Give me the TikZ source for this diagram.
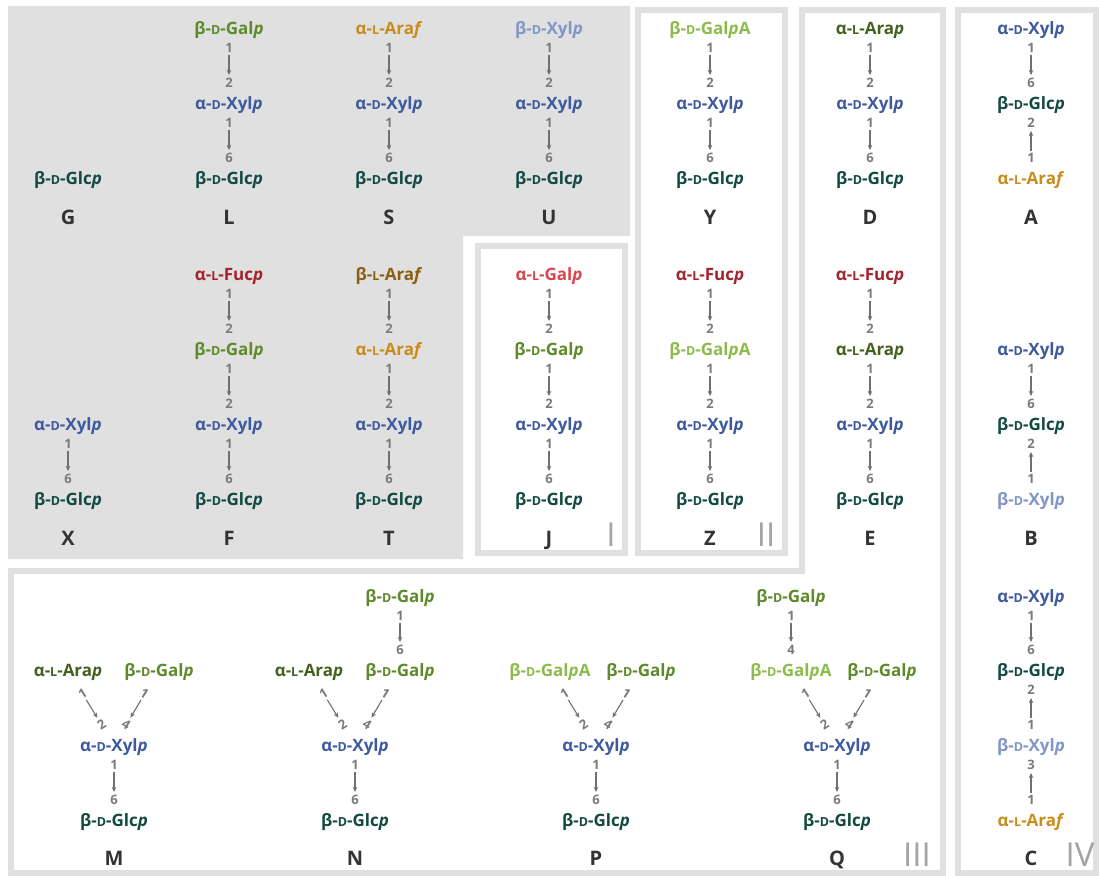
\documentclass[tikz,border=0pt]{standalone}
\usepackage{fontspec}
\setmainfont{Open Sans}
\usetikzlibrary{calc,arrows.meta}

\definecolor{panel}{HTML}{E0E0E0}
\definecolor{ink}{HTML}{333333}
\definecolor{numgray}{HTML}{7A7A7A}
\definecolor{linkgray}{HTML}{707070}
\definecolor{romangray}{HTML}{A3A3A3}
\definecolor{cGlc}{HTML}{124A42}
\definecolor{cAXyl}{HTML}{3D5A9E}
\definecolor{cBXyl}{HTML}{8096C8}
\definecolor{cBGal}{HTML}{5E8A2B}
\definecolor{cBGalA}{HTML}{8DBB4B}
\definecolor{cAArap}{HTML}{44601F}
\definecolor{cAAraf}{HTML}{C98C1B}
\definecolor{cBAraf}{HTML}{8B5E12}
\definecolor{cAFuc}{HTML}{A5222D}
\definecolor{cAGal}{HTML}{D9464D}

% small capital for the D/L configuration prefix
\newcommand\sm[1]{{\fontsize{12.5}{12}\selectfont #1}}
% residue names
\newcommand\Glc{β-\sm{D}-Glc\textit{p}}
\newcommand\aXyl{α-\sm{D}-Xyl\textit{p}}
\newcommand\bXyl{β-\sm{D}-Xyl\textit{p}}
\newcommand\bGal{β-\sm{D}-Gal\textit{p}}
\newcommand\bGalA{β-\sm{D}-Gal\textit{p}A}
\newcommand\aArap{α-\sm{L}-Ara\textit{p}}
\newcommand\aAraf{α-\sm{L}-Ara\textit{f}}
\newcommand\bAraf{β-\sm{L}-Ara\textit{f}}
\newcommand\aFuc{α-\sm{L}-Fuc\textit{p}}
\newcommand\aGal{α-\sm{L}-Gal\textit{p}}

% glycosidic link: [label style]{from}{to}{pos at from}{pos at to}{gap at from}{gap at to}
\newcommand\bond[7][]{%
  \node[num,#1] (#2-#3-s) at ($(#2)!#6!(#3)$) {#4};
  \node[num,#1] (#2-#3-t) at ($(#3)!#7!(#2)$) {#5};
  \draw[link] (#2-#3-s) -- (#2-#3-t);
}
\newcommand\vb[4]{\bond{#1}{#2}{#3}{#4}{20pt}{20pt}}
\newcommand\lb[4]{\bond[rotate=32]{#1}{#2}{#3}{#4}{28pt}{24pt}}
\newcommand\rb[4]{\bond[rotate=-32]{#1}{#2}{#3}{#4}{28pt}{24pt}}

\tikzset{
  sugar/.style={inner sep=0pt, text height=12.2pt, text depth=0pt,
    font=\fontsize{17}{17}\selectfont\bfseries},
  glc/.style={sugar, text=cGlc},
  axyl/.style={sugar, text=cAXyl},
  bxyl/.style={sugar, text=cBXyl},
  bgal/.style={sugar, text=cBGal},
  bgala/.style={sugar, text=cBGalA},
  aarap/.style={sugar, text=cAArap},
  aaraf/.style={sugar, text=cAAraf},
  baraf/.style={sugar, text=cBAraf},
  afuc/.style={sugar, text=cAFuc},
  agal/.style={sugar, text=cAGal},
  num/.style={inner sep=0.6pt, text height=9.3pt, text depth=0pt,
    font=\fontsize{13}{13}\selectfont\bfseries, text=numgray},
  link/.style={draw=linkgray, line width=1.1pt, shorten <=1.5pt, shorten >=2.5pt,
    -{Stealth[length=5pt,width=4.4pt,inset=1.2pt]}},
  letter/.style={inner sep=0pt, text height=14.3pt, text depth=0pt,
    font=\fontsize{20}{20}\selectfont\bfseries, text=ink},
  roman/.style={inner sep=0pt, text height=23.6pt, text depth=0pt,
    font=\fontsize{33}{33}\selectfont, text=romangray},
  frame/.style={draw=panel, line width=6pt, line join=miter},
}

\begin{document}
\begin{tikzpicture}[x=1pt, y=-1pt]
\useasboundingbox (0,0) rectangle (1099,875);

% shaded block and group frames
\fill[panel] (8,6) -- (630,6) -- (630,236) -- (463,236) -- (463,559) -- (8,559) -- cycle;
\draw[frame] (478,246) rectangle (625,553);
\draw[frame] (638,10) rectangle (785,553);
\draw[frame] (802,10) -- (943,10) -- (943,873) -- (11,873) -- (11,571) -- (802,571) -- cycle;
\draw[frame] (958,10) rectangle (1096,873);

% group numerals
\node[roman] (romI) at (611,535) {I};
\node[roman] (romII) at (766,535) {II};
\node[roman] (romIII) at (917,855) {III};
\node[roman] (romIV) at (1080,855) {IV};

% ---- G
\node[glc] (Gglc) at (68,178) {\Glc};
\node[letter] (Glab) at (68,217) {G};

% ---- L
\node[bgal] (Lgal) at (229,28) {\bGal};
\node[axyl] (Lxyl) at (229,103) {\aXyl};
\node[glc] (Lglc) at (229,178) {\Glc};
\vb{Lgal}{Lxyl}{1}{2}
\vb{Lxyl}{Lglc}{1}{6}
\node[letter] (Llab) at (229,217) {L};

% ---- S
\node[aaraf] (Sara) at (389,28) {\aAraf};
\node[axyl] (Sxyl) at (389,103) {\aXyl};
\node[glc] (Sglc) at (389,178) {\Glc};
\vb{Sara}{Sxyl}{1}{2}
\vb{Sxyl}{Sglc}{1}{6}
\node[letter] (Slab) at (389,217) {S};

% ---- U
\node[bxyl] (Ubxyl) at (549,28) {\bXyl};
\node[axyl] (Uxyl) at (549,103) {\aXyl};
\node[glc] (Uglc) at (549,178) {\Glc};
\vb{Ubxyl}{Uxyl}{1}{2}
\vb{Uxyl}{Uglc}{1}{6}
\node[letter] (Ulab) at (549,217) {U};

% ---- Y
\node[bgala] (Ygala) at (710,28) {\bGalA};
\node[axyl] (Yxyl) at (710,103) {\aXyl};
\node[glc] (Yglc) at (710,178) {\Glc};
\vb{Ygala}{Yxyl}{1}{2}
\vb{Yxyl}{Yglc}{1}{6}
\node[letter] (Ylab) at (710,217) {Y};

% ---- D
\node[aarap] (Dara) at (870,28) {\aArap};
\node[axyl] (Dxyl) at (870,103) {\aXyl};
\node[glc] (Dglc) at (870,178) {\Glc};
\vb{Dara}{Dxyl}{1}{2}
\vb{Dxyl}{Dglc}{1}{6}
\node[letter] (Dlab) at (870,217) {D};

% ---- A
\node[axyl] (Axyl) at (1031,28) {\aXyl};
\node[glc] (Aglc) at (1031,103) {\Glc};
\node[aaraf] (Aara) at (1031,178) {\aAraf};
\vb{Axyl}{Aglc}{1}{6}
\vb{Aara}{Aglc}{1}{2}
\node[letter] (Alab) at (1031,217) {A};

% ---- X
\node[axyl] (Xxyl) at (68,424) {\aXyl};
\node[glc] (Xglc) at (68,499) {\Glc};
\vb{Xxyl}{Xglc}{1}{6}
\node[letter] (Xlab) at (68,538) {X};

% ---- F
\node[afuc] (Ffuc) at (229,274) {\aFuc};
\node[bgal] (Fgal) at (229,349) {\bGal};
\node[axyl] (Fxyl) at (229,424) {\aXyl};
\node[glc] (Fglc) at (229,499) {\Glc};
\vb{Ffuc}{Fgal}{1}{2}
\vb{Fgal}{Fxyl}{1}{2}
\vb{Fxyl}{Fglc}{1}{6}
\node[letter] (Flab) at (229,538) {F};

% ---- T
\node[baraf] (Tbara) at (389,274) {\bAraf};
\node[aaraf] (Tara) at (389,349) {\aAraf};
\node[axyl] (Txyl) at (389,424) {\aXyl};
\node[glc] (Tglc) at (389,499) {\Glc};
\vb{Tbara}{Tara}{1}{2}
\vb{Tara}{Txyl}{1}{2}
\vb{Txyl}{Tglc}{1}{6}
\node[letter] (Tlab) at (389,538) {T};

% ---- J
\node[agal] (Jagal) at (549,274) {\aGal};
\node[bgal] (Jgal) at (549,349) {\bGal};
\node[axyl] (Jxyl) at (549,424) {\aXyl};
\node[glc] (Jglc) at (549,499) {\Glc};
\vb{Jagal}{Jgal}{1}{2}
\vb{Jgal}{Jxyl}{1}{2}
\vb{Jxyl}{Jglc}{1}{6}
\node[letter] (Jlab) at (549,538) {J};

% ---- Z
\node[afuc] (Zfuc) at (710,274) {\aFuc};
\node[bgala] (Zgala) at (710,349) {\bGalA};
\node[axyl] (Zxyl) at (710,424) {\aXyl};
\node[glc] (Zglc) at (710,499) {\Glc};
\vb{Zfuc}{Zgala}{1}{2}
\vb{Zgala}{Zxyl}{1}{2}
\vb{Zxyl}{Zglc}{1}{6}
\node[letter] (Zlab) at (710,538) {Z};

% ---- E
\node[afuc] (Efuc) at (870,274) {\aFuc};
\node[aarap] (Eara) at (870,349) {\aArap};
\node[axyl] (Exyl) at (870,424) {\aXyl};
\node[glc] (Eglc) at (870,499) {\Glc};
\vb{Efuc}{Eara}{1}{2}
\vb{Eara}{Exyl}{1}{2}
\vb{Exyl}{Eglc}{1}{6}
\node[letter] (Elab) at (870,538) {E};

% ---- B
\node[axyl] (Bxyl) at (1031,349) {\aXyl};
\node[glc] (Bglc) at (1031,424) {\Glc};
\node[bxyl] (Bbxyl) at (1031,499) {\bXyl};
\vb{Bxyl}{Bglc}{1}{6}
\vb{Bbxyl}{Bglc}{1}{2}
\node[letter] (Blab) at (1031,538) {B};

% ---- M
\node[aarap] (Mara) at (68,670) {\aArap};
\node[bgal] (Mgal) at (159,670) {\bGal};
\node[axyl] (Mxyl) at (114,745) {\aXyl};
\node[glc] (Mglc) at (114,820) {\Glc};
\lb{Mara}{Mxyl}{1}{2}
\rb{Mgal}{Mxyl}{1}{4}
\vb{Mxyl}{Mglc}{1}{6}
\node[letter] (Mlab) at (114,858) {M};

% ---- N
\node[bgal] (Ntop) at (400,596) {\bGal};
\node[aarap] (Nara) at (309,670) {\aArap};
\node[bgal] (Ngal) at (400,670) {\bGal};
\node[axyl] (Nxyl) at (355,745) {\aXyl};
\node[glc] (Nglc) at (355,820) {\Glc};
\vb{Ntop}{Ngal}{1}{6}
\lb{Nara}{Nxyl}{1}{2}
\rb{Ngal}{Nxyl}{1}{4}
\vb{Nxyl}{Nglc}{1}{6}
\node[letter] (Nlab) at (355,858) {N};

% ---- P
\node[bgala] (Pgala) at (550,670) {\bGalA};
\node[bgal] (Pgal) at (641,670) {\bGal};
\node[axyl] (Pxyl) at (596,745) {\aXyl};
\node[glc] (Pglc) at (596,820) {\Glc};
\lb{Pgala}{Pxyl}{1}{2}
\rb{Pgal}{Pxyl}{1}{4}
\vb{Pxyl}{Pglc}{1}{6}
\node[letter] (Plab) at (596,858) {P};

% ---- Q
\node[bgal] (Qtop) at (791,596) {\bGal};
\node[bgala] (Qgala) at (791,670) {\bGalA};
\node[bgal] (Qgal) at (882,670) {\bGal};
\node[axyl] (Qxyl) at (837,745) {\aXyl};
\node[glc] (Qglc) at (837,820) {\Glc};
\vb{Qtop}{Qgala}{1}{4}
\lb{Qgala}{Qxyl}{1}{2}
\rb{Qgal}{Qxyl}{1}{4}
\vb{Qxyl}{Qglc}{1}{6}
\node[letter] (Qlab) at (837,858) {Q};

% ---- C
\node[axyl] (Cxyl) at (1031,596) {\aXyl};
\node[glc] (Cglc) at (1031,670) {\Glc};
\node[bxyl] (Cbxyl) at (1031,745) {\bXyl};
\node[aaraf] (Cara) at (1031,820) {\aAraf};
\vb{Cxyl}{Cglc}{1}{6}
\vb{Cbxyl}{Cglc}{1}{2}
\vb{Cara}{Cbxyl}{1}{3}
\node[letter] (Clab) at (1031,858) {C};
\end{tikzpicture}
\end{document}
